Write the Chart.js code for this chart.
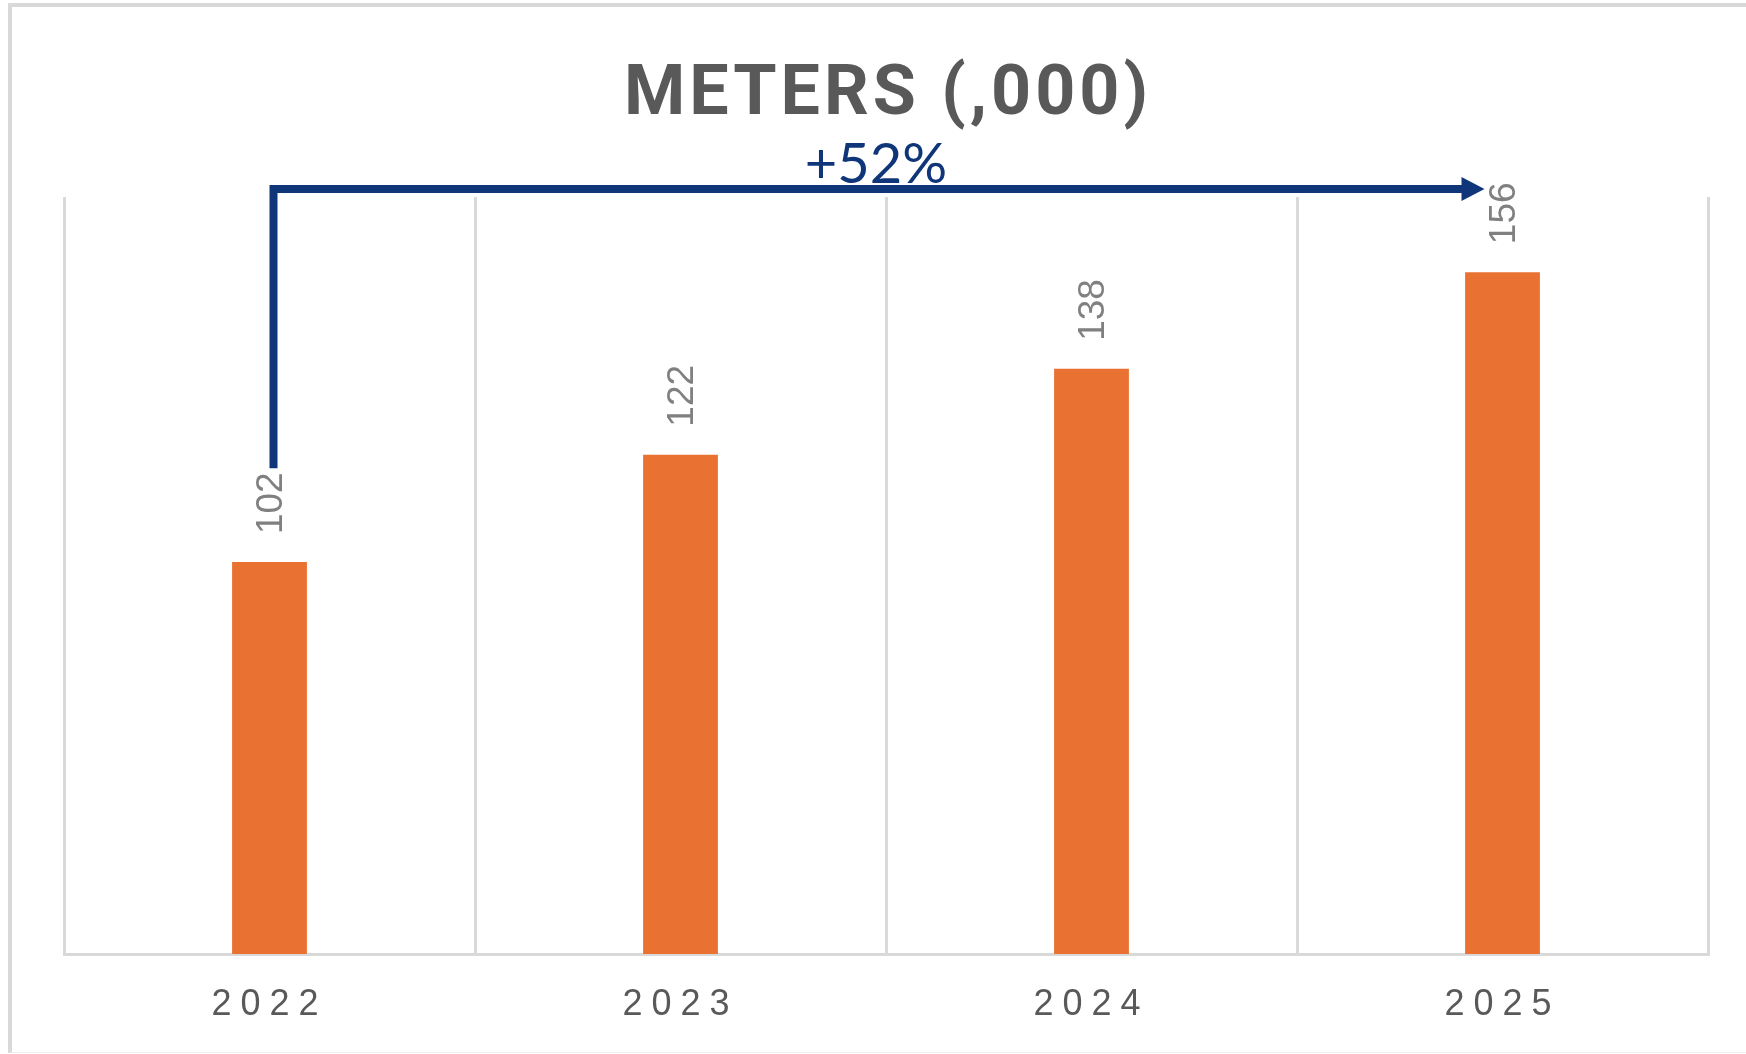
<!DOCTYPE html>
<html>
<head>
<meta charset="utf-8">
<title>Meters</title>
<script src="https://cdn.jsdelivr.net/npm/chart.js@4.4.1/dist/chart.umd.min.js"></script>
<style>
    html, body { margin: 0; padding: 0; background: #fff; overflow: hidden; }
    #wrap { position: absolute; left: 0; top: 0; width: 1746px; height: 1054px; }
    #frame {
        position: absolute; left: 8px; top: 3px; right: 0; bottom: 1px;
        border-left: 4px solid #d9d9d9; border-top: 4px solid #d9d9d9; border-bottom: 1px solid #eeeeee;
        pointer-events: none;
    }
</style>
</head>
<body>
<div id="wrap"><canvas id="meters"></canvas></div>
<div id="frame"></div>
<script>
// data
var years = ['2022', '2023', '2024', '2025'];
var meters = [102, 122, 138, 156];
var yMin = 29;
var yMax = 170;
var chartTitle = 'METERS (,000)';

var ORANGE = '#e97132';
var GREY = '#595959';
var LINE = '#d9d9d9';
var BLUE = '#10367a';

// Tick labels on the x axis are spaced out a little
var tickSpacing = {
    id: 'tickSpacing',
    beforeDraw: function (chart) { chart.ctx.letterSpacing = '9px'; },
    beforeDatasetsDraw: function (chart) { chart.ctx.letterSpacing = '0px'; }
};

// Value labels, growth arrow and title
var overlay = {
    id: 'overlay',
    afterDraw: function (chart) {
        var ctx = chart.ctx;
        var area = chart.chartArea;
        var bars = chart.getDatasetMeta(0).data;
        var labelGap = 28;

        ctx.save();
        ctx.fillStyle = '#808080';
        ctx.font = '37px "Liberation Sans", Arial, sans-serif';
        ctx.textAlign = 'left';
        ctx.textBaseline = 'middle';
        var firstLabelEnd = 0;
        bars.forEach(function (bar, i) {
            var txt = String(meters[i]);
            ctx.save();
            ctx.translate(bar.x + 2, bar.y - labelGap);
            ctx.rotate(-Math.PI / 2);
            ctx.fillText(txt, 0, 0);
            ctx.restore();
            if (i === 0) firstLabelEnd = bar.y - labelGap - ctx.measureText(txt).width;
        });
        ctx.restore();

        // growth arrow from first to last year
        var first = bars[0], last = bars[bars.length - 1];
        var x0 = first.x + 4;
        var yTop = area.top - 8;
        var yBottom = firstLabelEnd - 4;
        var tipX = last.x - 18;
        var headLen = 23, headHalf = 12;
        ctx.save();
        ctx.strokeStyle = BLUE;
        ctx.fillStyle = BLUE;
        ctx.lineWidth = 8;
        ctx.lineJoin = 'miter';
        ctx.lineCap = 'butt';
        ctx.beginPath();
        ctx.moveTo(x0, yBottom);
        ctx.lineTo(x0, yTop);
        ctx.lineTo(tipX - headLen + 1, yTop);
        ctx.stroke();
        ctx.beginPath();
        ctx.moveTo(tipX - headLen, yTop - headHalf);
        ctx.lineTo(tipX, yTop);
        ctx.lineTo(tipX - headLen, yTop + headHalf);
        ctx.closePath();
        ctx.fill();

        var growth = Math.floor((meters[meters.length - 1] / meters[0] - 1) * 100);
        ctx.font = '56px Lato, "Open Sans", sans-serif';
        ctx.textAlign = 'center';
        ctx.textBaseline = 'alphabetic';
        ctx.fillText('+' + growth + '%', (x0 + tipX) / 2 - 3, yTop - 6);
        ctx.restore();

        // title
        ctx.save();
        ctx.fillStyle = GREY;
        ctx.font = 'bold 70px Roboto, "Liberation Sans", sans-serif';
        ctx.letterSpacing = '4px';
        ctx.textAlign = 'center';
        ctx.textBaseline = 'alphabetic';
        ctx.fillText(chartTitle, (area.left + area.right) / 2 + 2, 114);
        ctx.restore();
    }
};

new Chart(document.getElementById('meters'), {
    type: 'bar',
    data: {
        labels: years,
        datasets: [{
            data: meters,
            backgroundColor: ORANGE,
            borderWidth: 0,
            barPercentage: 1,
            categoryPercentage: 0.182
        }]
    },
    options: {
        responsive: true,
        maintainAspectRatio: false,
        animation: false,
        layout: { padding: { left: 64, right: 38, top: 197, bottom: 0 } },
        plugins: {
            legend: { display: false },
            title: { display: false },
            tooltip: { enabled: false }
        },
        scales: {
            x: {
                grid: { color: LINE, lineWidth: 3, offset: true, drawTicks: false },
                border: { color: LINE, width: 3 },
                ticks: {
                    color: GREY,
                    padding: 29,
                    font: { family: '"Liberation Sans", Arial, sans-serif', size: 36 }
                },
                afterFit: function (scale) { scale.height = 100; }
            },
            y: {
                display: false,
                min: yMin,
                max: yMax
            }
        }
    },
    plugins: [tickSpacing, overlay]
});
</script>
</body>
</html>
